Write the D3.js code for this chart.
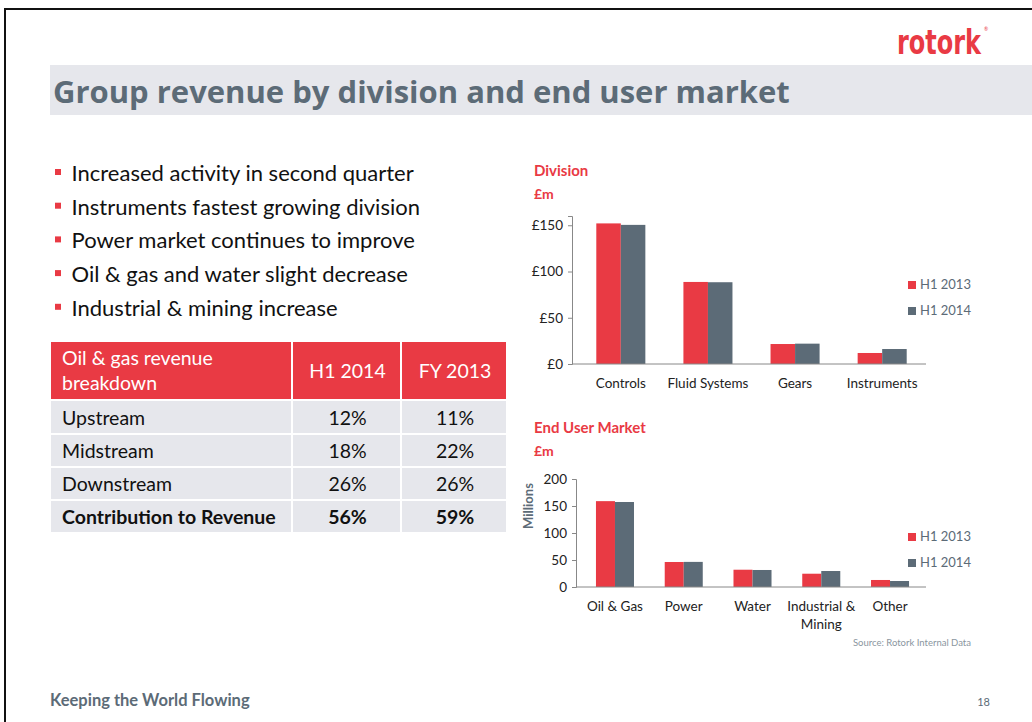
<!DOCTYPE html>
<html>
<head>
<meta charset="utf-8">
<script src="https://cdn.jsdelivr.net/npm/d3@7"></script>
<style>
  body { margin: 0; background: #fff; }
  text { font-family: Lato, "Open Sans", sans-serif; }
</style>
</head>
<body>
<div id="slide"></div>
<script>
// data
var bullets = ["Increased activity in second quarter", "Instruments fastest growing division",
  "Power market continues to improve", "Oil & gas and water slight decrease", "Industrial & mining increase"];

var tableHeader = ["Oil & gas revenue|breakdown", "H1 2014", "FY 2013"];
var tableRows = [
  ["Upstream", "12%", "11%"],
  ["Midstream", "18%", "22%"],
  ["Downstream", "26%", "26%"],
  ["Contribution to Revenue", "56%", "59%"]
];

var seriesNames = ["H1 2013", "H1 2014"];

var divisionCats = ["Controls", "Fluid Systems", "Gears", "Instruments"];
var division2013 = [152, 88.7, 21.6, 11.9];
var division2014 = [150.4, 88.4, 22, 16.2];
var divisionTicks = [0, 50, 100, 150];

var marketCats = ["Oil & Gas", "Power", "Water", "Industrial &|Mining", "Other"];
var market2013 = [159, 46.3, 32, 24.6, 13];
var market2014 = [157.4, 46.5, 31.5, 29.6, 11.1];
var marketTicks = [0, 50, 100, 150, 200];

var red = "#E93A44", slate = "#5C6B77", light = "#E6E7EC";

var svg = d3.select("#slide").append("svg")
    .attr("width", 1032)
    .attr("height", 722);

// slide frame
svg.append("rect").attr("x", 4).attr("y", 8).attr("width", 1030).attr("height", 2).attr("fill", "#111");
svg.append("rect").attr("x", 4).attr("y", 8).attr("width", 2).attr("height", 714).attr("fill", "#111");

// logo: squeeze horizontally with a transform so its box really ends before the ® mark
var logo = svg.append("text").attr("fill", red)
  .style("font-family", "'DejaVu Sans Condensed', 'Liberation Sans Narrow', sans-serif")
  .style("font-weight", "bold").style("font-size", "33px")
  .text("rotork");
var lw = logo.node().getComputedTextLength();
logo.attr("transform", "translate(897,54) scale(" + (84 / lw) + ",1)");
svg.append("text").attr("x", 984).attr("y", 31).style("font-size", "5px").attr("fill", red).text("®");

// title band
svg.append("rect").attr("x", 50).attr("y", 65).attr("width", 982).attr("height", 50).attr("fill", light);
svg.append("text").attr("x", 53).attr("y", 103)
  .style("font-family", "'Open Sans', sans-serif").style("font-weight", "bold")
  .style("font-size", "31px").attr("fill", slate)
  .text("Group revenue by division and end user market");

// bullets
var bl = svg.append("g");
bullets.forEach(function(b, i) {
  var y = 181 + i * 33.7;
  bl.append("rect").attr("x", 55).attr("y", y - 12).attr("width", 6).attr("height", 6).attr("fill", red);
  bl.append("text").attr("x", 71.5).attr("y", y).style("font-size", "22px").attr("fill", "#111").text(b);
});

// table
var colX = [51, 293, 402, 508];
var rowY = [342, 399, 433, 466, 499, 532];
var tb = svg.append("g");
tb.selectAll("rect.head").data(tableHeader).enter().append("rect")
  .attr("x", function(d, i) { return colX[i]; })
  .attr("y", rowY[0])
  .attr("width", function(d, i) { return colX[i + 1] - colX[i] - 2; })
  .attr("height", rowY[1] - rowY[0])
  .attr("fill", red);
tableHeader.forEach(function(h, i) {
  var lines = h.split("|");
  var t = tb.append("text").style("font-size", "19.5px").attr("fill", "#fff")
    .attr("text-anchor", i == 0 ? "start" : "middle");
  if (lines.length > 1) {
    lines.forEach(function(l, j) {
      t.append("tspan").attr("x", colX[i] + 11).attr("y", 365 + j * 25).text(l);
    });
  } else {
    t.attr("x", (colX[i] + colX[i + 1]) / 2).attr("y", 378).text(h);
  }
});
tableRows.forEach(function(r, ri) {
  var y0 = rowY[ri + 1] + 2, y1 = rowY[ri + 2];
  r.forEach(function(c, ci) {
    tb.append("rect").attr("x", colX[ci]).attr("y", y0)
      .attr("width", colX[ci + 1] - colX[ci] - 2).attr("height", y1 - y0).attr("fill", light);
    tb.append("text")
      .attr("x", ci == 0 ? colX[0] + 11 : (colX[ci] + colX[ci + 1]) / 2)
      .attr("y", y1 - 8)
      .attr("text-anchor", ci == 0 ? "start" : "middle")
      .style("font-size", "19.5px")
      .style("font-weight", ri == tableRows.length - 1 ? "bold" : "normal")
      .attr("fill", "#111")
      .text(c);
  });
});

// grouped bar chart
function barChart(opt) {
  var g = svg.append("g");
  g.append("text").attr("x", 534).attr("y", opt.titleY).style("font-size", "15px")
    .style("font-weight", "bold").attr("fill", red).text(opt.title);
  g.append("text").attr("x", 534).attr("y", opt.titleY + 23).style("font-size", "14px")
    .style("font-weight", "bold").attr("fill", red).text("£m");

  var x = d3.scaleBand().domain(opt.cats).range(opt.xRange).paddingInner(opt.padIn).paddingOuter(opt.padOut);
  var x1 = d3.scaleBand().domain(seriesNames).range([0, x.bandwidth()]);
  var y = d3.scaleLinear().domain(opt.yDomain).range(opt.yRange);

  var yAxis = g.append("g")
    .attr("transform", "translate(" + opt.axisX + ",0)")
    .call(d3.axisLeft(y).tickValues(opt.ticks).tickSize(4).tickPadding(5).tickFormat(opt.fmt));
  yAxis.select(".domain").attr("stroke", "#888");
  yAxis.selectAll(".tick line").attr("stroke", "#888");
  yAxis.selectAll("text").style("font-size", "13.5px").attr("fill", "#222")
    .style("font-family", "Lato, sans-serif");

  var rows = opt.cats.map(function(c, i) { return {cat: c, v: [opt.a[i], opt.b[i]]}; });
  g.selectAll("g.grp").data(rows).enter().append("g")
    .attr("transform", function(d) { return "translate(" + x(d.cat) + ",0)"; })
    .selectAll("rect").data(function(d) { return d.v.map(function(v, k) { return {s: seriesNames[k], v: v}; }); })
    .enter().append("rect")
      .attr("x", function(d) { return x1(d.s); })
      .attr("y", function(d) { return y(d.v); })
      .attr("width", x1.bandwidth())
      .attr("height", function(d) { return y(0) - y(d.v); })
      .attr("fill", function(d, k) { return k == 0 ? red : slate; });

  g.append("line").attr("x1", opt.axisX).attr("x2", 926)
    .attr("y1", y(0)).attr("y2", y(0)).attr("stroke", "#888");

  rows.forEach(function(d) {
    var t = g.append("text").attr("text-anchor", "middle").style("font-size", "13.5px").attr("fill", "#222");
    d.cat.split("|").forEach(function(l, j) {
      t.append("tspan").attr("x", x(d.cat) + x.bandwidth() / 2).attr("y", opt.labelY + j * 18).text(l);
    });
  });

  seriesNames.forEach(function(s, k) {
    var ly = opt.legendY + k * 26;
    g.append("rect").attr("x", 908).attr("y", ly - 8).attr("width", 8).attr("height", 8).attr("fill", k == 0 ? red : slate);
    g.append("text").attr("x", 920).attr("y", ly).style("font-size", "13px").attr("fill", slate).text(s);
  });
  return g;
}

barChart({
  title: "Division", titleY: 176, cats: divisionCats, a: division2013, b: division2014,
  xRange: [574, 929], padIn: 0.437, padOut: 0.256, axisX: 572,
  yDomain: [0, 160], yRange: [364, 216], ticks: divisionTicks,
  fmt: function(d) { return "£" + d; }, labelY: 388, legendY: 289
});

var m = barChart({
  title: "End User Market", titleY: 433, cats: marketCats, a: market2013, b: market2014,
  xRange: [576.5, 928.5], padIn: 0.447, padOut: 0.283, axisX: 576,
  yDomain: [0, 200], yRange: [587, 479], ticks: marketTicks,
  fmt: function(d) { return d; }, labelY: 611, legendY: 541
});
m.append("text").attr("transform", "translate(533,506) rotate(-90)").attr("text-anchor", "middle")
  .style("font-size", "13px").style("font-weight", "bold").attr("fill", slate).text("Millions");
m.append("text").attr("x", 971).attr("y", 646).attr("text-anchor", "end")
  .style("font-size", "9.5px").attr("fill", "#8A96A0").text("Source: Rotork Internal Data");

// footer
svg.append("text").attr("x", 50).attr("y", 706).style("font-size", "16.5px").style("font-weight", "bold")
  .attr("fill", slate).text("Keeping the World Flowing");
svg.append("text").attr("x", 990).attr("y", 706).attr("text-anchor", "end").style("font-size", "11px")
  .attr("fill", slate).text("18");
</script>
</body>
</html>
